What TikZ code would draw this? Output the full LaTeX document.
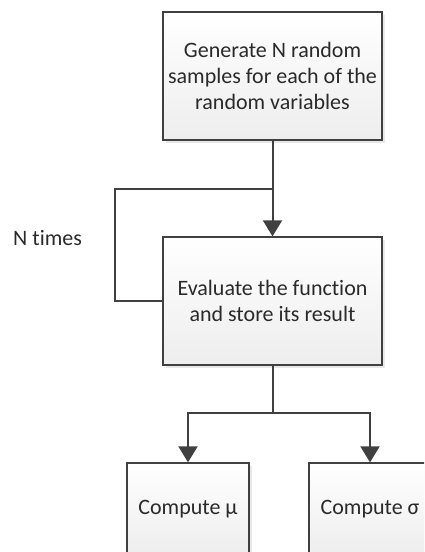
\documentclass[tikz,border=0pt]{standalone}
\usepackage{fontspec}
\setmainfont[Ligatures=NoCommon]{Carlito}
\usetikzlibrary{arrows.meta,shadows}
\definecolor{edge}{HTML}{404040}
\definecolor{ink}{HTML}{2A2A2A}
\tikzset{
  labelfont/.style={text=ink, font=\fontsize{22}{26}\selectfont},
  procbox/.style={labelfont, draw=edge, line width=1.3pt, top color=white, bottom color=black!7,
    minimum width=219pt, minimum height=128pt, inner sep=0pt, align=center,
    drop shadow={shadow xshift=2.5pt, shadow yshift=-2.5pt, fill=black!15, opacity=0.6}},
  smallbox/.style={procbox, minimum width=122pt, minimum height=92pt},
  flow/.style={draw=edge, line width=2pt},
  flowarrow/.style={flow, -{Triangle[length=16pt,width=19pt]}},
}
\begin{document}
\begin{tikzpicture}[x=1pt,y=-1pt]
  \useasboundingbox (0,0) rectangle (424,552);
  \clip (0,0) rectangle (424,552);
  \node[procbox] (gen) at (272.5,76) {Generate N random\\samples for each of the\\random variables};
  \node[procbox] (eval) at (272.5,301) {Evaluate the function\\and store its result};
  \node[smallbox] (mu) at (188,509) {Compute μ};
  \node[smallbox] (sigma) at (370,509) {Compute σ};
  \node[labelfont, anchor=west, inner sep=0pt] (ntimes) at (13,238) {N times};

  \coordinate (join) at (272.5,189);
  \coordinate (loopT) at (115,189);
  \coordinate (loopB) at (115,301);
  \coordinate (split) at (272.5,413);

  \draw[flowarrow] (gen.south) -- (eval.north);
  \draw[flow] (eval.west) -- (loopB) -- (loopT) -- (join);
  \draw[flow] (eval.south) -- (split);
  \draw[flowarrow] (split) -| (mu.north);
  \draw[flowarrow] (split) -| (sigma.north);
\end{tikzpicture}
\end{document}
